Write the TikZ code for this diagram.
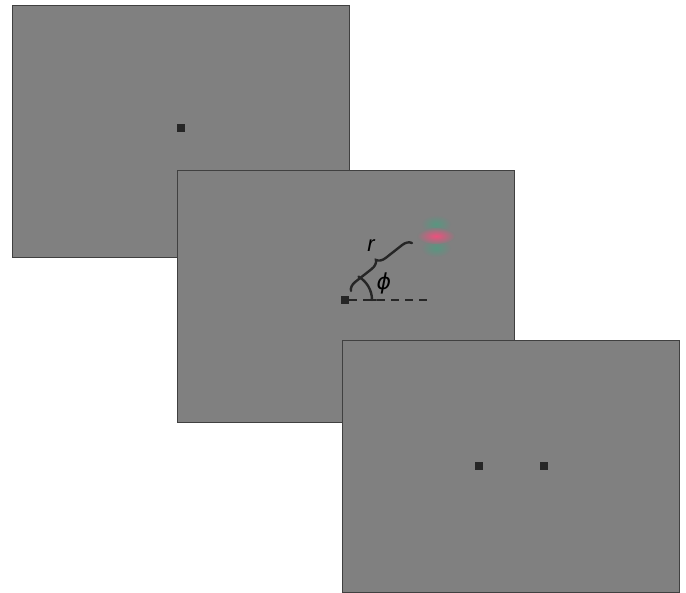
\documentclass[tikz,border=0pt]{standalone}
\usepackage{fontspec}
\setmainfont{Liberation Sans}
\newfontfamily\griega{DejaVu Sans}
\usepackage{tikz}
\usetikzlibrary{decorations.pathreplacing, positioning, calc}

\definecolor{verdegabor}{RGB}{88,150,128}
\definecolor{rojogabor}{RGB}{238,80,125}

\begin{document}
\begin{tikzpicture}[
        x=1pt, y=1pt,
        pantalla/.style={
            rectangle,
            minimum width=337pt,
            minimum height=252pt,
            inner sep=0pt,
            fill=black!50,
            draw=black!75,
            line width=0.6pt
        },
        fijacion/.style={
            rectangle,
            minimum size=8pt,
            inner sep=0pt,
            fill=black!85
        },
        etiqueta/.style={font=\fontsize{22}{22}\selectfont\itshape, inner sep=0pt},
        trazo/.style={line width=2.4pt, draw=black!85, line cap=round}
    ]
        \useasboundingbox (0,0) rectangle (686,593);

        \node[pantalla] (inicio) at (180.5,462) {};
        \node[pantalla] (estimulo) at (346,296.5) {};
        \node[pantalla] (respuesta) at (511,127) {};

        \node[fijacion] (fija1) at (181,465) {};
        \node[fijacion] (fija2) at (345,293) {};
        \node[fijacion] (marca1) at (479,127) {};
        \node[fijacion] (marca2) at (544,127) {};

        % gabor
        \shade[inner color=verdegabor, outer color=black!50] (436,369) ellipse (15pt and 9pt);
        \shade[inner color=verdegabor, outer color=black!50] (436,345) ellipse (15pt and 9pt);
        \shade[inner color=rojogabor, outer color=black!50] (436,357) ellipse (19pt and 8pt);

        \coordinate (finlinea) at (432,293);
        \coordinate (baseb) at (351,302);
        \coordinate (topeb) at (412,350);

        \draw[line width=2pt, draw=black!85, dash pattern=on 8pt off 6pt] (fija2.east) -- (finlinea);
        \draw[trazo, decorate, decoration={brace, amplitude=9pt}] (baseb) -- (topeb);
        \draw[trazo] ($(fija2)+(60:27)$) arc (60:0:27);
        \draw[trazo] ($(fija2)+(23,0)$) -- ++(8,0);

        \node[etiqueta] (radio) at (371,347) {r};
        \node[etiqueta] (angulo) at (384,310) {\griega\itshape ϕ};
    \end{tikzpicture}
\end{document}
